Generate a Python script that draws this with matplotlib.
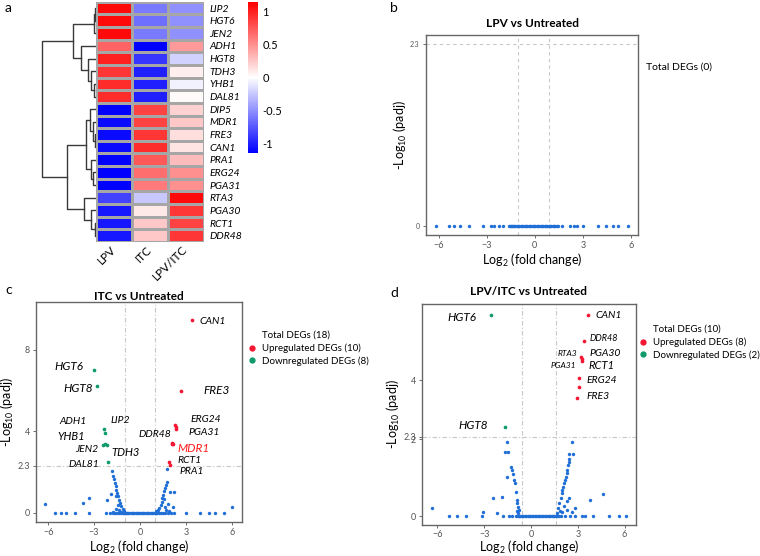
import numpy as np
import matplotlib
matplotlib.use("Agg")
import matplotlib.pyplot as plt
from matplotlib.colors import LinearSegmentedColormap
from matplotlib.lines import Line2D

plt.rcParams['font.family'] = ['Lato', 'DejaVu Sans']
plt.rcParams['mathtext.fontset'] = 'custom'
plt.rcParams['mathtext.rm'] = 'Lato'
plt.rcParams['mathtext.it'] = 'Lato:italic'

# ---------------- panel a: heatmap data ----------------
genes = ['LIP2', 'HGT6', 'JEN2', 'ADH1', 'HGT8', 'TDH3', 'YHB1', 'DAL81', 'DIP5', 'MDR1',
         'FRE3', 'CAN1', 'PRA1', 'ERG24', 'PGA31', 'RTA3', 'PGA30', 'RCT1', 'DDR48']
conditions = ['LPV', 'ITC', 'LPV/ITC']
lpv = [1.1, 1.1, 1.1, 0.7, 1.0, 0.9, 0.95, 0.95, -1.15, -1.1, -1.1, -1.1, -1.15, -1.15, -1.15,
       -0.85, -1.05, -1.05, -1.05]
itc = [-0.6, -0.65, -0.6, -1.15, -0.9, -1.0, -1.0, -1.0, 0.85, 0.85, 0.9, 0.95, 0.75, 0.65, 0.6,
       -0.25, 0.1, 0.25, 0.25]
lpv_itc = [-0.5, -0.5, -0.5, 0.45, -0.2, 0.08, -0.06, 0.02, 0.2, 0.25, 0.15, 0.12, 0.3, 0.5, 0.5,
           1.1, 0.9, 0.85, 0.9]
# row clustering: (child a, child b, height); ids >= 19 are earlier merges
linkage = [(0, 1, 0.04), (19, 2, 0.13), (6, 7, 0.17), (5, 21, 0.37), (4, 22, 0.57),
           (3, 23, 1.12), (20, 24, 1.69), (10, 11, 0.1), (9, 26, 0.2), (8, 27, 0.45),
           (13, 14, 0.22), (12, 29, 0.4), (28, 30, 0.77), (17, 18, 0.07), (16, 32, 0.37),
           (15, 33, 0.87), (31, 34, 2.14), (25, 35, 4.0)]

# ---------------- panel b: LPV vs Untreated ----------------
b_flat_x = [-6.19, -5.38, -5.04, -4.65, -4.1, -3.23, -2.75, -2.54, -2.25, -2.0, -1.62, -1.55,
            -1.5, -1.44, -1.38, -1.3, -1.21, -1.12, -1.03, -0.96, -0.88, -0.8, -0.71, -0.62,
            -0.55, -0.47, -0.38, -0.3, -0.21, -0.13, -0.05, 0.04, 0.12, 0.2, 0.29, 0.37, 0.45,
            0.54, 0.62, 0.7, 0.79, 0.87, 0.95, 1.04, 1.12, 1.2, 1.29, 1.38, 1.46, 1.67, 2.23,
            2.44, 2.64, 3.02, 3.92, 4.48, 4.9, 5.17, 5.83]

# ---------------- panel c: ITC vs Untreated ----------------
c_flat_x = [-5.56, -5.18, -4.84, -4.25, -3.31, -2.22, -1.96, -1.79, -1.63, -1.48, -1.35, -1.22,
            -1.12, -1.02, -0.94, -0.86, -0.78, -0.7, -0.61, -0.53, -0.45, -0.37, -0.28, -0.2,
            -0.12, -0.04, 0.05, 0.13, 0.21, 0.29, 0.38, 0.46, 0.54, 0.62, 0.71, 0.79, 0.87,
            0.95, 1.04, 1.13, 1.25, 1.37, 1.52, 1.66, 1.83, 2.02, 2.24, 3.0, 3.95, 4.5, 4.93, 5.5]
c_blue_x = [-6.2, -3.7, -3.31, -2.13, -1.9, -1.81, -1.74, -1.7, -1.65, -1.59, -1.56, -1.5,
            -1.46, -1.39, -1.31, -1.22, -1.13, -1.05, -1.57, -1.42, -1.6, -1.35, -1.75, -1.25,
            1.79, 1.74, 1.68, 1.63, 1.59, 1.52, 1.46, 1.42, 1.35, 1.26, 1.16, 1.05,
            1.96, 2.24, 1.59, 2.18, 1.85, 1.7, 1.9, 1.62, 6.03]
c_blue_y = [0.43, 0.47, 0.7, 0.64, 0.92, 2.07, 1.78, 1.65, 1.46, 1.3, 1.13, 0.97,
            0.8, 0.64, 0.48, 0.31, 0.18, 0.08, 0.8, 0.39, 0.2, 0.15, 0.05, 0.04,
            2.16, 1.53, 1.37, 1.2, 1.04, 0.87, 0.71, 0.54, 0.38, 0.25, 0.13, 0.07,
            1.0, 1.0, 0.67, 0.26, 0.4, 0.15, 0.1, 0.3, 0.28]
c_up_x = [3.38, 2.66, 2.32, 2.34, 2.36, 2.1, 2.13, 2.08, 1.92, 1.95]
c_up_y = [9.45, 5.96, 4.3, 4.12, 4.22, 3.42, 3.38, 3.35, 2.5, 2.35]
c_down_x = [-2.98, -2.81, -2.35, -2.27, -2.4, -2.14, -2.3, -2.07]
c_down_y = [7.03, 6.21, 4.1, 3.9, 3.33, 3.33, 3.36, 2.51]
# name, x, y, ha, size, colour
c_labels = [('CAN1', 3.86, 9.38, 'left', 7.5, 'k'), ('HGT6', -3.73, 7.17, 'right', 8.5, 'k'),
            ('HGT8', -3.09, 6.11, 'right', 8.5, 'k'), ('FRE3', 4.18, 5.98, 'left', 8.5, 'k'),
            ('ADH1', -3.46, 4.48, 'right', 7.5, 'k'),
            ('LIP2', -1.9, 4.52, 'left', 7.5, 'k'), ('ERG24', 3.31, 4.59, 'left', 7.5, 'k'),
            ('YHB1', -3.61, 3.74, 'right', 8, 'k'), ('DDR48', 2.03, 3.86, 'right', 7.5, 'k'),
            ('PGA31', 3.2, 3.96, 'left', 7.5, 'k'), ('JEN2', -2.73, 3.09, 'right', 7.5, 'k'),
            ('TDH3', -1.9, 2.96, 'left', 8, 'k'), ('MDR1', 2.42, 3.17, 'left', 8.5, '#ff1a1a'),
            ('DAL81', -2.68, 2.35, 'right', 7.5, 'k'), ('RCT1', 2.42, 2.55, 'left', 7.5, 'k'),
            ('PRA1', 2.55, 2.02, 'left', 7.5, 'k')]

# ---------------- panel d: LPV/ITC vs Untreated ----------------
d_flat_x = [-5.24, -4.76, -4.17, -3.16, -1.78, -1.4, -1.2, -0.95, -0.85, -0.76, -0.68, -0.6,
            -0.5, -0.41, -0.32, -0.22, -0.13, -0.04, 0.06, 0.15, 0.24, 0.33, 0.42, 0.51, 0.6,
            0.7, 0.79, 0.88, 0.97, 1.06, 1.15, 1.24, 1.33, 1.42, 1.5, 1.58, 1.66, 1.8, 1.95,
            2.2, 2.5, 2.8, 3.25, 3.46, 3.99, 5.02, 5.64, 6.09]
d_blue_x = [-6.33, -3.06, -2.42, -2.2, -1.84, -1.56, -1.67, -1.45, -1.56, -1.3, -1.24, -1.18,
            -1.09, -1.03, -0.96, -0.92, -0.88, -0.84, -0.8, -0.85, -0.9,
            2.61, 2.46, 2.67, 2.46, 2.42, 2.37, 2.33, 2.29, 2.22, 2.18, 2.12, 2.07, 2.0, 1.97,
            1.9, 1.81, 1.75, 1.69, 2.46, 2.29, 2.82, 2.61, 3.78, 4.64, 2.1, 2.3, 2.0, 1.85]
d_blue_y = [0.22, 0.1, 0.46, 0.07, 0.5, 1.94, 1.68, 1.68, 1.02, 1.29, 1.2, 1.1,
            0.94, 0.85, 0.63, 0.42, 0.33, 0.24, 0.16, 0.08, 0.12,
            1.94, 1.63, 1.63, 1.5, 1.42, 1.33, 1.2, 1.11, 1.02, 0.94, 0.85, 0.76, 0.68, 0.59,
            0.46, 0.33, 0.2, 0.07, 0.46, 0.39, 0.2, 0.11, 0.42, 0.57, 0.25, 0.15, 0.1, 0.12]
d_up_x = [3.67, 3.4, 3.23, 3.25, 3.27, 3.08, 3.06, 2.95]
d_up_y = [5.94, 5.17, 4.69, 4.63, 4.58, 4.05, 3.79, 3.47]
d_down_x = [-2.56, -1.67]
d_down_y = [5.95, 2.6]
d_labels = [('HGT6', -3.48, 5.87, 'right', 8.5, 'k'), ('CAN1', 4.1, 5.92, 'left', 7.5, 'k'),
            ('DDR48', 3.78, 5.24, 'left', 6.5, 'k'), ('RTA3', 2.93, 4.8, 'right', 6, 'k'),
            ('PGA30', 3.72, 4.8, 'left', 7.5, 'k'), ('PGA31', 2.87, 4.45, 'right', 6, 'k'),
            ('RCT1', 3.65, 4.43, 'left', 8, 'k'), ('ERG24', 3.57, 3.98, 'left', 7.5, 'k'),
            ('FRE3', 3.57, 3.5, 'left', 7.5, 'k'), ('HGT8', -2.78, 2.65, 'right', 8.5, 'k')]

BLUE = '#1f6fd6'
RED = '#f41632'
GREEN = '#0e9a6a'

fig = plt.figure(figsize=(7.6, 5.56), dpi=100)


def px_axes(x0, y0, x1, y1):
    return fig.add_axes([x0 / 760, 1 - y1 / 556, (x1 - x0) / 760, (y1 - y0) / 556])


# ---- a: dendrogram + heatmap
n = len(genes)
ax_d = px_axes(42, 1.7, 96, 242)
pos = {i: (0.0, i + 0.5) for i in range(n)}
for k, (a, b, h) in enumerate(linkage):
    (xa, ya), (xb, yb) = pos[a], pos[b]
    ax_d.plot([xa, h, h, xb], [ya, ya, yb, yb], color='#3a3a3a', lw=1, clip_on=False)
    pos[n + k] = (h, (ya + yb) / 2)
ax_d.set_xlim(4.0, 0)
ax_d.set_ylim(n, 0)
ax_d.axis('off')

ax_h = px_axes(96, 1.7, 204, 242)
mat = np.column_stack([lpv, itc, lpv_itc])
cmap = LinearSegmentedColormap.from_list('bwr2', ['#0000ff', '#ffffff', '#ff0000'])
mesh = ax_h.pcolormesh(mat, cmap=cmap, vmin=-1.15, vmax=1.15, edgecolors='#a6a6a6', linewidth=0.8)
ax_h.set_xlim(0, 3)
ax_h.set_ylim(n, 0)
ax_h.yaxis.tick_right()
ax_h.set_yticks(np.arange(n) + 0.5, genes, fontstyle='italic', fontsize=7.5)
ax_h.set_xticks(np.arange(3) + 0.5, conditions, rotation=45, ha='right', va='center',
                rotation_mode='anchor', fontsize=8.5)
ax_h.tick_params(length=0, pad=4)
for s in ax_h.spines.values():
    s.set_visible(False)

cax = px_axes(248, 2, 258, 153)
cb = fig.colorbar(mesh, cax=cax, ticks=[-1, -0.5, 0, 0.5, 1])
cb.outline.set_visible(False)
cb.set_ticklabels(['-1', '-0.5', '0', '0.5', '1'])
cb.ax.tick_params(length=0, labelsize=8, pad=3)


# ---- volcano panels
def volcano_axes(ax, title, xlim, ylim, yticks, vlines, dash, title_pad=6, xlabel_pad=1):
    ax.set_xlim(*xlim)
    ax.set_ylim(*ylim)
    ax.set_xticks([-6, -3, 0, 3, 6])
    ax.set_yticks(yticks, [f'{t:g}' for t in yticks])
    for v in vlines:
        ax.axvline(v, color='#c8c8c8', lw=0.8, ls=dash, zorder=0)
    ax.axhline(2.3, color='#c8c8c8', lw=0.8, ls=dash, zorder=0)
    for s in ax.spines.values():
        s.set_color('#666666')
        s.set_linewidth(1)
    ax.tick_params(labelsize=6.5, colors='#555555', length=2.5, width=0.6, pad=2)
    ax.set_title(title, fontsize=8.5, fontweight='bold', pad=title_pad)
    ax.set_xlabel(r'Log$_2$ (fold change)', fontsize=9, labelpad=xlabel_pad)
    ax.set_ylabel(r'-Log$_{10}$ (padj)', fontsize=9, labelpad=1)


def deg_legend(ax, left_px, top_px, labels, size=7):
    handles = [Line2D([], [], ls='none', marker='None')]
    for c in (RED, GREEN)[:len(labels) - 1]:
        handles.append(Line2D([], [], ls='none', marker='o', ms=3.5, color=c))
    ax.legend(handles, labels, loc='upper left', bbox_to_anchor=(left_px / 760, 1 - top_px / 556),
              bbox_transform=fig.transFigure, frameon=False, fontsize=size, handlelength=0.8,
              handletextpad=0.6, labelspacing=0.35, borderpad=0, borderaxespad=0)


def gene_labels(ax, labels):
    for name, x, y, ha, size, col in labels:
        ax.text(x, y, name, ha=ha, va='center', fontsize=size, style='italic', color=col)


# b
ax_b = px_axes(426, 35, 638, 235)
ax_b.scatter(b_flat_x, [0] * len(b_flat_x), s=6, color=BLUE, lw=0)
volcano_axes(ax_b, 'LPV vs Untreated', (-6.8, 6.45), (-0.11, 2.42), [0, 2.3], [-1.05, 0.9],
             (0, (3, 3)))
ax_b.tick_params(axis='y', labelsize=5)
deg_legend(ax_b, 631, 62, ['Total DEGs (0)'], size=7.5)

# c
ax_c = px_axes(36, 302, 242, 522)
ax_c.scatter(c_flat_x, [0] * len(c_flat_x), s=6, color=BLUE, lw=0)
ax_c.scatter(c_blue_x, c_blue_y, s=6, color=BLUE, lw=0)
ax_c.scatter(c_up_x, c_up_y, s=7, color=RED, lw=0)
ax_c.scatter(c_down_x, c_down_y, s=7, color=GREEN, lw=0)
volcano_axes(ax_c, 'ITC vs Untreated', (-6.8, 6.67), (-0.46, 10.35), [0, 2.3, 4, 8], [-1.0, 0.97],
             (0, (4, 2, 1, 2)), title_pad=1.5)
gene_labels(ax_c, c_labels)
deg_legend(ax_c, 248, 331, ['Total DEGs (18)', 'Upregulated DEGs (10)', 'Downregulated DEGs (8)'])

# d  (y axis of the original is stretched below 2.3)
d_true = [-10, 0, 2, 2.3, 30]
d_disp = [-383.5, 0, 76.7, 79.3, 79.3 + 27.7 * 33.35]
ax_d2 = px_axes(422.3, 304.3, 635.7, 524.5)
ax_d2.set_yscale('function', functions=(lambda v: np.interp(v, d_true, d_disp),
                                        lambda v: np.interp(v, d_disp, d_true)))
ax_d2.scatter(d_flat_x, [0] * len(d_flat_x), s=6, color=BLUE, lw=0)
ax_d2.scatter(d_blue_x, d_blue_y, s=6, color=BLUE, lw=0)
ax_d2.scatter(d_up_x, d_up_y, s=7, color=RED, lw=0)
ax_d2.scatter(d_down_x, d_down_y, s=7, color=GREEN, lw=0)
volcano_axes(ax_d2, 'LPV/ITC vs Untreated', (-6.97, 6.71), (-0.22, 6.27), [0, 2, 2.3, 4],
             [-0.55, 1.62], (0, (4, 2, 1, 2)), title_pad=7, xlabel_pad=0)
ax_d2.tick_params(axis='x', pad=1.5)
gene_labels(ax_d2, d_labels)
deg_legend(ax_d2, 639, 325, ['Total DEGs (10)', 'Upregulated DEGs (8)', 'Downregulated DEGs (2)'])

for letter, x, y in [('a', 5, 8), ('b', 390, 8), ('c', 5, 290), ('d', 390, 293)]:
    fig.text(x / 760, 1 - y / 556, letter, fontsize=10, va='center')

fig.savefig('out.png', dpi=100)
